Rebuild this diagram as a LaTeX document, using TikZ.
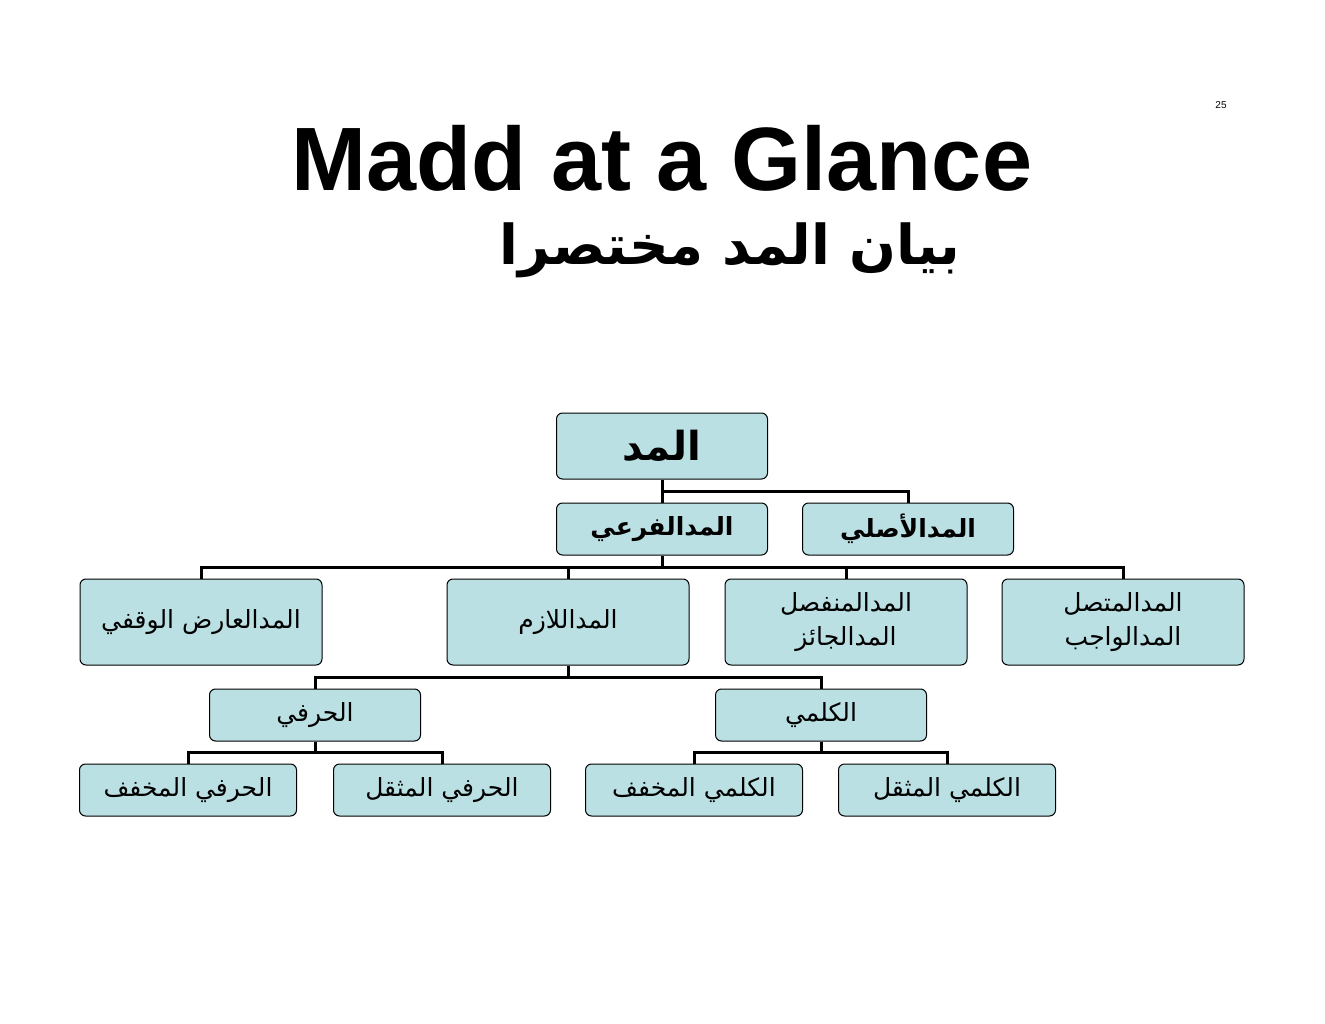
\documentclass[tikz,border=0pt]{standalone}
\usepackage{fontspec}
\setmainfont{Liberation Sans}
\newfontfamily\arabicfont[Script=Arabic]{DejaVu Sans}
\TeXXeTstate=1
\usetikzlibrary{positioning}
\definecolor{boxfill}{RGB}{187,224,227}
\newcommand{\ar}[1]{{\arabicfont\beginR #1\endR}}

\begin{document}
\begin{tikzpicture}[x=1pt,y=-1pt,
box/.style={draw=black, line width=1pt, fill=boxfill, rounded corners=6pt, inner sep=0pt,
  minimum width=211pt, minimum height=52pt, align=center, font=\fontsize{25}{34}\selectfont},
wide/.style={box, minimum width=242pt, minimum height=86pt},
small/.style={box, minimum width=217pt},
link/.style={line width=3pt}]
\useasboundingbox (0,0) rectangle (1325,1024);
\node at (1221,105) {\fontsize{10}{12}\selectfont 25};
\node (title) at (662,158) {\fontsize{90}{96}\selectfont\bfseries Madd at a Glance};
\node (subtitle) at (730,250) {\fontsize{55}{64}\selectfont\bfseries\ar{بيان المد مختصرا}};

% root and branches
\node[box, minimum height=66pt, font=\fontsize{40}{44}\selectfont\bfseries] (madd) at (662,446) {\ar{المد}};
\node[box, font=\fontsize{25}{34}\selectfont\bfseries] (far) at (662,529) {\ar{المدالفرعي}};
\node[box, font=\fontsize{25}{34}\selectfont\bfseries] (asl) at (908,529) {\ar{المدالأصلي}};

\node[wide] (arid) at (201,622) {\ar{المدالعارض الوقفي}};
\node[wide] (lazim) at (568,622) {\ar{المداللازم}};
\node[wide] (munfasil) at (846,622) {\ar{المدالمنفصل}\\\ar{المدالجائز}};
\node[wide] (muttasil) at (1123,622) {\ar{المدالمتصل}\\\ar{المدالواجب}};

\node[box] (harfi) at (315,715) {\ar{الحرفي}};
\node[box] (kalimi) at (821,715) {\ar{الكلمي}};

\node[small] (hmukh) at (188,790) {\ar{الحرفي المخفف}};
\node[small] (hmuth) at (442,790) {\ar{الحرفي المثقل}};
\node[small] (kmukh) at (694,790) {\ar{الكلمي المخفف}};
\node[small] (kmuth) at (947,790) {\ar{الكلمي المثقل}};

% connectors
\draw[link] (madd.south) -- (far.north);
\draw[link] (madd.south) -- ++(0,12) -| (asl.north);
\draw[link] (far.south) -- ++(0,12) -| (arid.north);
\draw[link] (far.south) -- ++(0,12) -| (muttasil.north);
\draw[link] (lazim.north) -- ++(0,-12);
\draw[link] (munfasil.north) -- ++(0,-12);
\draw[link] (lazim.south) -- ++(0,12) -| (harfi.north);
\draw[link] (lazim.south) -- ++(0,12) -| (kalimi.north);
\draw[link] (harfi.south) -- ++(0,11) -| (hmukh.north);
\draw[link] (harfi.south) -- ++(0,11) -| (hmuth.north);
\draw[link] (kalimi.south) -- ++(0,11) -| (kmukh.north);
\draw[link] (kalimi.south) -- ++(0,11) -| (kmuth.north);
\end{tikzpicture}
\end{document}
